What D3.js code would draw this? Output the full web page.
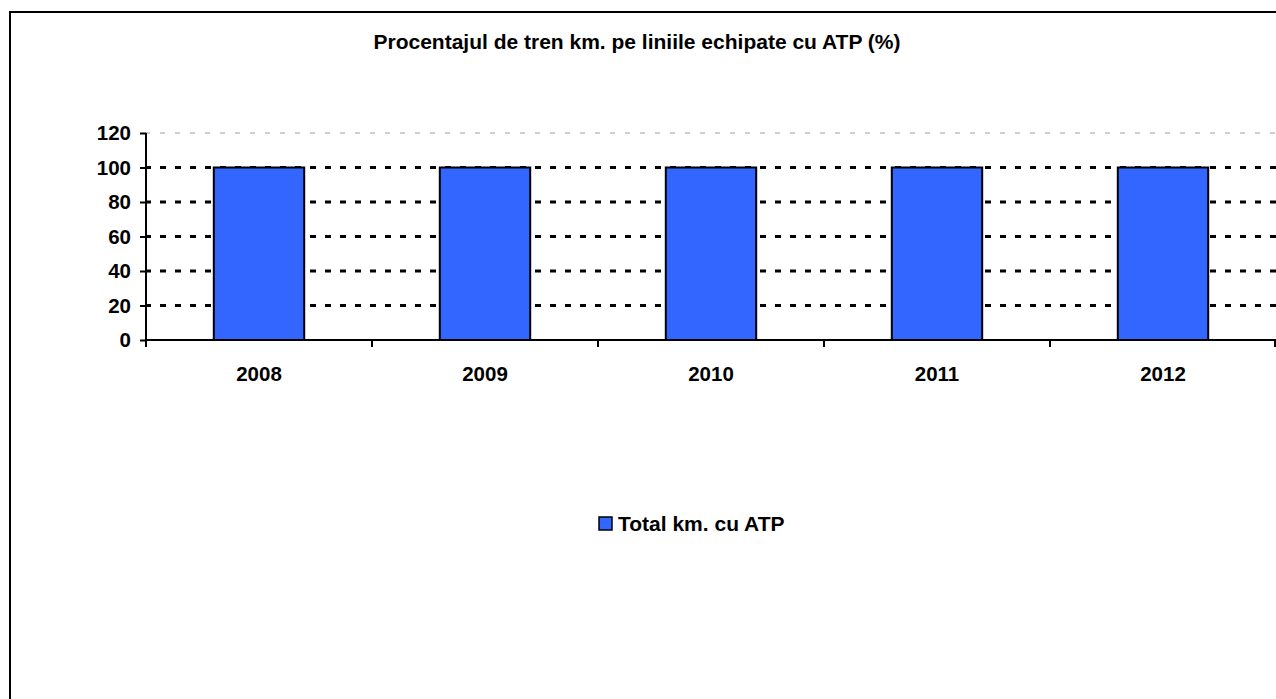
<!DOCTYPE html>
<html>
<head>
<meta charset="utf-8">
<script src="https://cdn.jsdelivr.net/npm/d3@7"></script>
<style>
  body { margin: 0; background: #fff; }
  text { font-family: Arial, "Liberation Sans", sans-serif; font-weight: bold; }
</style>
</head>
<body>
<div id="chart-area"></div>
<script>
var years = ["2008", "2009", "2010", "2011", "2012"];
var values = [100, 100, 100, 100, 100];
var yTicks = [0, 20, 40, 60, 80, 100, 120];
var title = "Procentajul de tren km. pe liniile echipate cu ATP (%)";
var seriesName = "Total km. cu ATP";

var svg_width = 1276;
var svg_height = 699;
var plotLeft = 146, plotRight = 1276, plotTop = 133, plotBottom = 340;
var barColor = "#3366ff";
var fontSize = 20.5;

var svg = d3.select("#chart-area").append("svg")
    .attr("width", svg_width)
    .attr("height", svg_height);

// outer frame (runs off the right and bottom)
svg.append("rect")
    .attr("x", 10).attr("y", 12)
    .attr("width", 1400).attr("height", 800)
    .attr("fill", "none")
    .attr("stroke", "#000")
    .attr("stroke-width", 2);

svg.append("text")
    .attr("x", 637).attr("y", 49)
    .attr("text-anchor", "middle")
    .attr("font-size", 21)
    .text(title);

var x = d3.scaleBand()
    .domain(years)
    .range([plotLeft, plotRight])
    .paddingInner(0.6)
    .paddingOuter(0.3);

var y = d3.scaleLinear()
    .domain([0, 120])
    .range([plotBottom, plotTop]);

// gridlines
svg.selectAll("line.grid")
    .data(yTicks.filter((d) => d > 0))
    .enter()
    .append("line")
    .attr("class", "grid")
    .attr("x1", plotLeft).attr("x2", plotRight)
    .attr("y1", (d) => y(d)).attr("y2", (d) => y(d))
    .attr("stroke", (d) => d == 120 ? "#c0c0c0" : "#000")
    .attr("stroke-width", (d) => d == 120 ? 1.5 : 3)
    .attr("stroke-dasharray", (d) => d == 120 ? "5,10" : "6,9")
    .attr("stroke-dashoffset", -14);

// bars
svg.selectAll("rect.bar")
    .data(values)
    .enter()
    .append("rect")
    .attr("class", "bar")
    .attr("x", (d, i) => x(years[i]))
    .attr("y", (d) => y(d))
    .attr("width", x.bandwidth())
    .attr("height", (d) => y(0) - y(d))
    .attr("fill", barColor)
    .attr("stroke", "#000")
    .attr("stroke-width", 2);

// y axis
var yAxis = svg.append("g")
    .attr("transform", "translate(" + plotLeft + ",0)")
    .call(d3.axisLeft(y).tickValues(yTicks).tickSize(6).tickPadding(9));
yAxis.select(".domain").attr("stroke-width", 2).attr("d", "M0," + plotTop + "V" + (plotBottom + 7));
yAxis.selectAll(".tick line").attr("stroke-width", 2);
yAxis.selectAll(".tick text").attr("font-size", fontSize).attr("fill", "#000");

// x axis
var xAxis = svg.append("g")
    .attr("transform", "translate(0," + plotBottom + ")")
    .call(d3.axisBottom(x).tickSize(0).tickPadding(26));
xAxis.select(".domain").attr("stroke-width", 2).attr("d", "M" + plotLeft + ",0H" + plotRight);
xAxis.selectAll(".tick text").attr("font-size", fontSize).attr("fill", "#000");

// category boundary ticks
var bounds = years.map((d) => x(d) - x.step() * 0.3).concat([plotRight - 1]);
xAxis.selectAll("line.bound")
    .data(bounds)
    .enter()
    .append("line")
    .attr("class", "bound")
    .attr("x1", (d) => d).attr("x2", (d) => d)
    .attr("y1", 0).attr("y2", 7)
    .attr("stroke", "#000")
    .attr("stroke-width", 2);

// legend
var legend = svg.append("g").attr("transform", "translate(599,517)");
legend.append("rect")
    .attr("x", 0).attr("y", 0)
    .attr("width", 13).attr("height", 13)
    .attr("fill", barColor)
    .attr("stroke", "#000")
    .attr("stroke-width", 1.5);
legend.append("text")
    .attr("x", 19).attr("y", 14)
    .attr("font-size", 21)
    .text(seriesName);
</script>
</body>
</html>
